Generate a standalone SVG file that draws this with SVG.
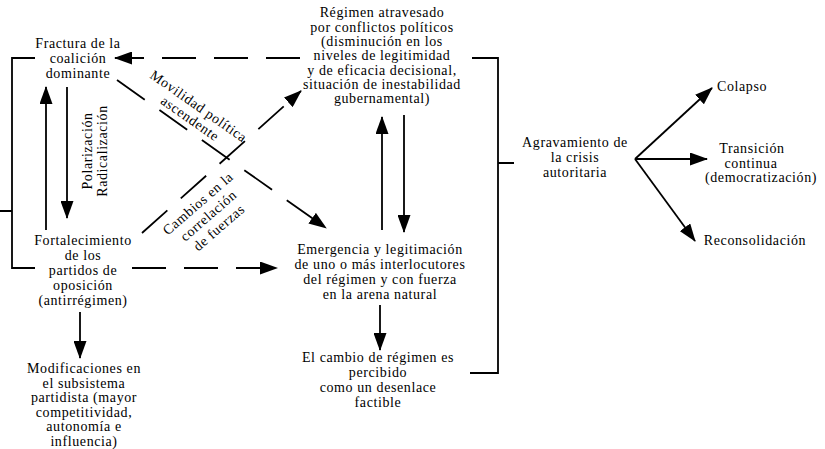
<svg xmlns="http://www.w3.org/2000/svg" width="825" height="449" viewBox="0 0 825 449">
<defs>
<style>
text{font-family:'Liberation Serif',serif;font-size:14px;fill:#000;text-anchor:middle;letter-spacing:0.6px}
.ln{fill:none;stroke:#000;stroke-width:1.8}
.ds{stroke-dasharray:34 18}
.ar{marker-end:url(#ah)}
</style>
<marker id="ah" viewBox="0 0 18 13" refX="17" refY="6.5" markerWidth="18" markerHeight="13" orient="auto" markerUnits="userSpaceOnUse"><path d="M0,0 L18,6.5 L0,13 z" fill="#000"/></marker>
</defs>
<rect width="825" height="449" fill="#fff"/>
<g id="connectors">
<path class="ln" d="M35,58 H12 V268 H35 M0,211 H12"/>
<path class="ln" d="M472,58 H498 V373 H470 M498,163 H514"/>
<path class="ln ds ar" d="M300,58 L115,58"/>
<path class="ln ds ar" d="M117,80 L326,228"/>
<path class="ln ds ar" d="M142,233 L301,91"/>
<path class="ln ds ar" d="M132,268 L277,268"/>
<path class="ln ar" d="M46,230 L46,87"/>
<path class="ln ar" d="M67,87 L67,218"/>
<path class="ln ar" d="M80,312 L80,358"/>
<path class="ln ar" d="M382,230 L382,117"/>
<path class="ln ar" d="M404,115 L404,232"/>
<path class="ln ar" d="M380,305 L380,350"/>
<path class="ln ar" d="M635,159 L712,88"/>
<path class="ln ar" d="M635,159 L707,159"/>
<path class="ln ar" d="M635,159 L695,241"/>
</g>
<g id="label-polarizacion" transform="translate(92,151) rotate(-90)">
<text x="0" y="0">Polarización</text>
<text x="0" y="15">Radicalización</text>
</g>
<g id="label-movilidad" transform="translate(196,110) rotate(35)">
<text x="0" y="0">Movilidad política</text>
<text x="0" y="15">ascendente</text>
</g>
<g id="label-cambios" transform="translate(201,207) rotate(-41)">
<text x="0" y="0">Cambios en la</text>
<text x="0" y="16">correlación</text>
<text x="0" y="32">de fuerzas</text>
</g>
<g id="n-fractura">
<text x="78" y="48">Fractura de la</text>
<text x="78" y="63">coalición</text>
<text x="78" y="78">dominante</text>
</g>
<g id="n-regimen">
<text x="382" y="17">Régimen atravesado</text>
<text x="382" y="31.5">por conflictos políticos</text>
<text x="382" y="46">(disminución en los</text>
<text x="382" y="60">niveles de legitimidad</text>
<text x="382" y="74.5">y de eficacia decisional,</text>
<text x="382" y="88.5">situación de inestabilidad</text>
<text x="382" y="102.5">gubernamental)</text>
</g>
<g id="n-fortalecimiento">
<text x="83" y="245">Fortalecimiento</text>
<text x="83" y="260">de los</text>
<text x="83" y="275">partidos de</text>
<text x="83" y="290">oposición</text>
<text x="83" y="305">(antirrégimen)</text>
</g>
<g id="n-modificaciones">
<text x="84" y="373">Modificaciones en</text>
<text x="84" y="387.5">el subsistema</text>
<text x="84" y="402">partidista (mayor</text>
<text x="84" y="416.5">competitividad,</text>
<text x="84" y="431">autonomía e</text>
<text x="84" y="445.5">influencia)</text>
</g>
<g id="n-emergencia">
<text x="380" y="254">Emergencia y legitimación</text>
<text x="380" y="269">de uno o más interlocutores</text>
<text x="380" y="284">del régimen y con fuerza</text>
<text x="380" y="299">en la arena natural</text>
</g>
<g id="n-cambio">
<text x="378" y="362">El cambio de régimen es</text>
<text x="378" y="377">percibido</text>
<text x="378" y="392">como un desenlace</text>
<text x="378" y="407">factible</text>
</g>
<g id="n-agravamiento">
<text x="575" y="147">Agravamiento de</text>
<text x="575" y="162">la crisis</text>
<text x="575" y="176.5">autoritaria</text>
</g>
<g id="n-colapso">
<text x="742" y="91">Colapso</text>
</g>
<g id="n-transicion">
<text x="752" y="153">Transición</text>
<text x="751" y="167.5">continua</text>
<text x="761" y="182">(democratización)</text>
</g>
<g id="n-reconsolidacion">
<text x="755" y="245">Reconsolidación</text>
</g>
</svg>
